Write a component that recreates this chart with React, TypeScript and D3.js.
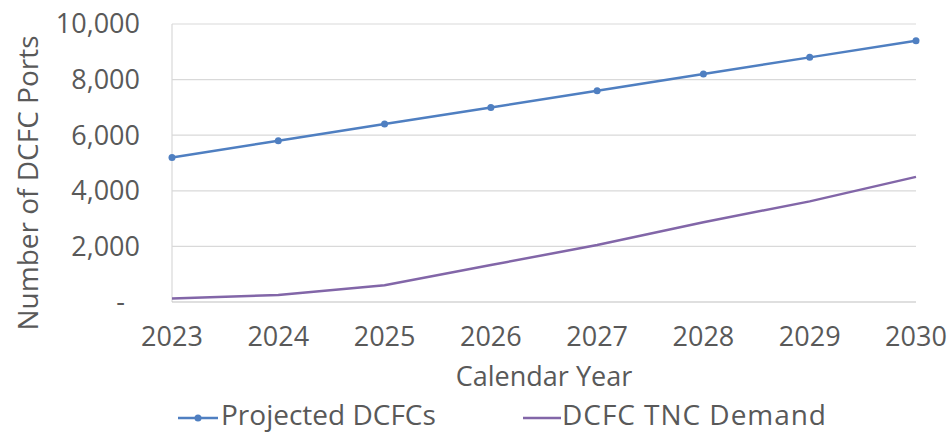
import React, { useEffect, useRef } from 'react';
import * as d3 from 'd3';

// Chart data
const years = [2023, 2024, 2025, 2026, 2027, 2028, 2029, 2030];
const projectedDcfcs = [5200, 5800, 6400, 7000, 7600, 8200, 8800, 9400];
const tncDemand = [130, 250, 600, 1330, 2050, 2870, 3620, 4500];
const yTicks = [0, 2000, 4000, 6000, 8000, 10000];

const width = 949;
const height = 436;
const margin = { top: 24, right: 33, bottom: 134, left: 172 };
const font = "'Open Sans', sans-serif";
const textColor = '#595959';
const blue = '#4f7fc1';
const purple = '#8266a8';

const App: React.FC = () => {
  const ref = useRef<SVGSVGElement>(null);

  useEffect(() => {
    if (!ref.current) return;
    const svg = d3.select(ref.current);
    svg.selectAll('*').remove();

    const innerW = width - margin.left - margin.right;
    const innerH = height - margin.top - margin.bottom;

    const x = d3.scalePoint<number>().domain(years).range([margin.left, margin.left + innerW]);
    const y = d3.scaleLinear().domain([0, 10000]).range([margin.top + innerH, margin.top]);

    // gridlines
    svg.append('g')
      .selectAll('line')
      .data(yTicks.filter(d => d > 0))
      .join('line')
      .attr('x1', margin.left)
      .attr('x2', margin.left + innerW)
      .attr('y1', d => y(d))
      .attr('y2', d => y(d))
      .attr('stroke', '#d9d9d9')
      .attr('stroke-width', 1.2);

    // left axis line
    svg.append('line')
      .attr('x1', margin.left).attr('x2', margin.left)
      .attr('y1', y(10000)).attr('y2', y(0))
      .attr('stroke', '#d9d9d9').attr('stroke-width', 1.2);

    // bottom axis line
    svg.append('line')
      .attr('x1', margin.left).attr('x2', margin.left + innerW)
      .attr('y1', y(0)).attr('y2', y(0))
      .attr('stroke', '#bfbfbf').attr('stroke-width', 1.2);

    // y tick labels (zero shown as an accounting-style dash)
    svg.append('g')
      .selectAll('text')
      .data(yTicks)
      .join('text')
      .attr('x', d => (d === 0 ? 125 : 140))
      .attr('y', d => y(d))
      .attr('dy', '0.35em')
      .attr('text-anchor', 'end')
      .attr('font-family', font)
      .attr('font-size', 27)
      .attr('fill', textColor)
      .text(d => (d === 0 ? '-' : d3.format(',')(d)));

    // x tick labels
    svg.append('g')
      .selectAll('text')
      .data(years)
      .join('text')
      .attr('x', d => x(d)!)
      .attr('y', 337)
      .attr('dy', '0.35em')
      .attr('text-anchor', 'middle')
      .attr('font-family', font)
      .attr('font-size', 27)
      .attr('fill', textColor)
      .text(d => String(d));

    // axis titles
    svg.append('text')
      .attr('x', 544)
      .attr('y', 377)
      .attr('dy', '0.35em')
      .attr('text-anchor', 'middle')
      .attr('font-family', font)
      .attr('font-size', 27)
      .attr('fill', textColor)
      .text('Calendar Year');

    svg.append('text')
      .attr('transform', `translate(28,${margin.top + innerH / 2 + 20}) rotate(-90)`)
      .attr('dy', '0.35em')
      .attr('text-anchor', 'middle')
      .attr('font-family', font)
      .attr('font-size', 28)
      .attr('fill', textColor)
      .text('Number of DCFC Ports');

    const line = d3.line<number>()
      .x((_, i) => x(years[i])!)
      .y(d => y(d));

    svg.append('path')
      .datum(tncDemand)
      .attr('d', line)
      .attr('fill', 'none')
      .attr('stroke', purple)
      .attr('stroke-width', 2.5);

    svg.append('path')
      .datum(projectedDcfcs)
      .attr('d', line)
      .attr('fill', 'none')
      .attr('stroke', blue)
      .attr('stroke-width', 2.5);

    svg.append('g')
      .selectAll('circle')
      .data(projectedDcfcs)
      .join('circle')
      .attr('cx', (_, i) => x(years[i])!)
      .attr('cy', d => y(d))
      .attr('r', 3.5)
      .attr('fill', blue);

    // legend
    const legendY = 418;
    const lg = svg.append('g');
    lg.append('line')
      .attr('x1', 178).attr('x2', 218).attr('y1', legendY).attr('y2', legendY)
      .attr('stroke', blue).attr('stroke-width', 2.5);
    lg.append('circle').attr('cx', 198).attr('cy', legendY).attr('r', 3.5).attr('fill', blue);
    lg.append('text')
      .attr('x', 221).attr('y', legendY - 3).attr('dy', '0.35em')
      .attr('font-family', font).attr('font-size', 28).attr('fill', textColor)
      .text('Projected DCFCs');
    lg.append('line')
      .attr('x1', 523).attr('x2', 561).attr('y1', legendY).attr('y2', legendY)
      .attr('stroke', purple).attr('stroke-width', 2.5);
    lg.append('text')
      .attr('x', 562).attr('y', legendY - 3).attr('dy', '0.35em')
      .attr('font-family', font).attr('font-size', 28).attr('fill', textColor)
      .attr('textLength', 264)
      .text('DCFC TNC Demand');
  }, []);

  return (
    <>
      <style>{'body{margin:0;background:#fff}'}</style>
      <svg ref={ref} width={width} height={height} style={{ display: 'block' }} />
    </>
  );
};

export default App;
